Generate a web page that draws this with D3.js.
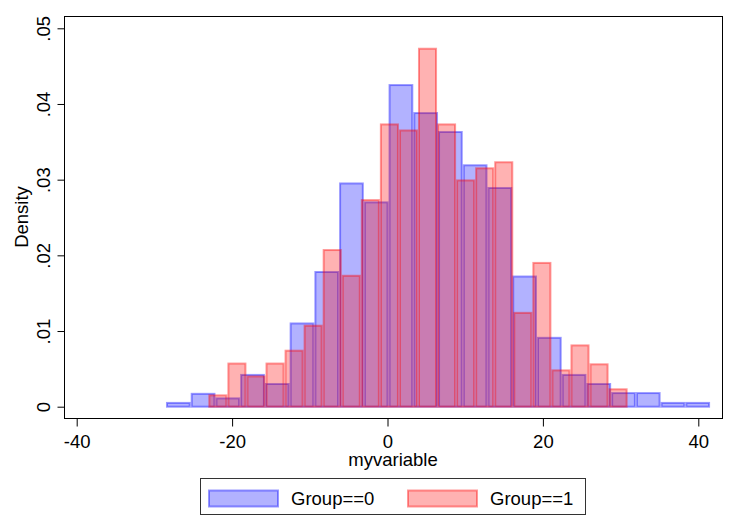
<!DOCTYPE html>
<html>
<head>
<meta charset="utf-8">
<script src="https://cdn.jsdelivr.net/npm/d3@7"></script>
<style>
  html, body { margin: 0; padding: 0; background: #fff; }
  svg { display: block; font-family: "Liberation Sans", Arial, sans-serif; }
</style>
</head>
<body>
<svg id="chart" width="731" height="526"></svg>
<script>
// ---- data ----
const group0Start = -28.51;   // left edge of first bin, Group==0
const group0Width = 3.183;    // bin width, Group==0
const group0Density = [0.0005, 0.0017, 0.0011, 0.0042, 0.0030, 0.0110, 0.0178, 0.0295, 0.0270, 0.0425, 0.0388,
                       0.0363, 0.0319, 0.0289, 0.0172, 0.0091, 0.0042, 0.0030, 0.0018, 0.0018, 0.0005, 0.0005];
const group1Start = -23.06;   // left edge of first bin, Group==1
const group1Width = 2.453;    // bin width, Group==1
const group1Density = [0.0015, 0.0057, 0.0040, 0.0057, 0.0074, 0.0107, 0.0207, 0.0173, 0.0273, 0.0373, 0.0365,
                       0.0473, 0.0373, 0.0299, 0.0315, 0.0323, 0.0124, 0.0190, 0.0048, 0.0081, 0.0056, 0.0023];
const xTicks = [-40, -20, 0, 20, 40];
const yTicks = [0, 0.01, 0.02, 0.03, 0.04, 0.05];
const yTickLabels = ["0", ".01", ".02", ".03", ".04", ".05"];
const seriesNames = ["Group==0", "Group==1"];

// ---- layout ----
const FS = 18.5;
const svg = d3.select("#chart");
const frame = {left: 64, right: 722, top: 16, bottom: 418};
const x = d3.scaleLinear().domain([-40, 40]).range([76.7, 698.3]);
const y = d3.scaleLinear().domain([0, 0.05]).range([406.7, 28.3]);

const styles = [
  {fill: "rgb(0,0,255)", fillOpacity: 0.3, stroke: "rgb(0,0,255)", strokeOpacity: 0.4},
  {fill: "rgb(255,0,0)", fillOpacity: 0.3, stroke: "rgb(255,0,0)", strokeOpacity: 0.4}
];

function bins(start, width, dens) {
  return dens.map((d, i) => ({x0: start + i * width, x1: start + (i + 1) * width, d}));
}
const series = [bins(group0Start, group0Width, group0Density), bins(group1Start, group1Width, group1Density)];

const plot = svg.append("g");
series.forEach((s, k) => {
  plot.append("g").selectAll("rect").data(s).join("rect")
    .attr("x", b => x(b.x0) + 1)
    .attr("y", b => y(b.d))
    .attr("width", b => x(b.x1) - x(b.x0) - 2)
    .attr("height", b => y(0) - y(b.d))
    .attr("fill", styles[k].fill)
    .attr("fill-opacity", styles[k].fillOpacity)
    .attr("stroke", styles[k].stroke)
    .attr("stroke-opacity", styles[k].strokeOpacity)
    .attr("stroke-width", 2);
});

// frame
svg.append("rect")
  .attr("x", frame.left + 0.5).attr("y", frame.top + 0.5)
  .attr("width", frame.right - frame.left).attr("height", frame.bottom - frame.top)
  .attr("fill", "none").attr("stroke", "#000").attr("stroke-width", 1);

// y axis
const yAxis = d3.axisLeft(y).tickValues(yTicks).tickSize(7).tickPadding(6)
  .tickFormat((d, i) => yTickLabels[i]);
const gy = svg.append("g").attr("transform", `translate(${frame.left + 0.5},0)`).call(yAxis);
gy.select(".domain").remove();
gy.selectAll(".tick line").attr("stroke", "#000");
gy.selectAll(".tick text")
  .attr("font-size", FS).attr("fill", "#000")
  .attr("x", 0).attr("y", 0).attr("dy", 0)
  .attr("text-anchor", "middle")
  .attr("transform", "translate(-14.5,0) rotate(-90)");

// x axis
const xAxis = d3.axisBottom(x).tickValues(xTicks).tickSize(8).tickPadding(5).tickFormat(d3.format("d"));
const gx = svg.append("g").attr("transform", `translate(0,${frame.bottom + 0.5})`).call(xAxis);
gx.select(".domain").remove();
gx.selectAll(".tick line").attr("stroke", "#000");
gx.selectAll(".tick text").attr("font-size", FS).attr("fill", "#000")
  .attr("y", 29).attr("dy", 0)
  .text(d => d < 0 ? "-" + Math.abs(d) : d);

// axis titles
svg.append("text").attr("x", 393).attr("y", 466)
  .attr("text-anchor", "middle").attr("font-size", FS).text("myvariable");
svg.append("text").attr("transform", `translate(28,217) rotate(-90)`)
  .attr("text-anchor", "middle").attr("font-size", FS).text("Density");

// legend
const leg = svg.append("g");
leg.append("rect").attr("x", 200.5).attr("y", 478.5).attr("width", 385).attr("height", 36)
  .attr("fill", "#fff").attr("stroke", "#333").attr("stroke-width", 1);
const legX = [208, 407];
seriesNames.forEach((name, k) => {
  leg.append("rect").attr("x", legX[k] + 1).attr("y", 490.5).attr("width", 69).attr("height", 16)
    .attr("fill", styles[k].fill).attr("fill-opacity", styles[k].fillOpacity)
    .attr("stroke", styles[k].stroke).attr("stroke-opacity", styles[k].strokeOpacity).attr("stroke-width", 2);
  leg.append("text").attr("x", legX[k] + 83).attr("y", 505).attr("font-size", FS).text(name);
});
</script>
</body>
</html>
